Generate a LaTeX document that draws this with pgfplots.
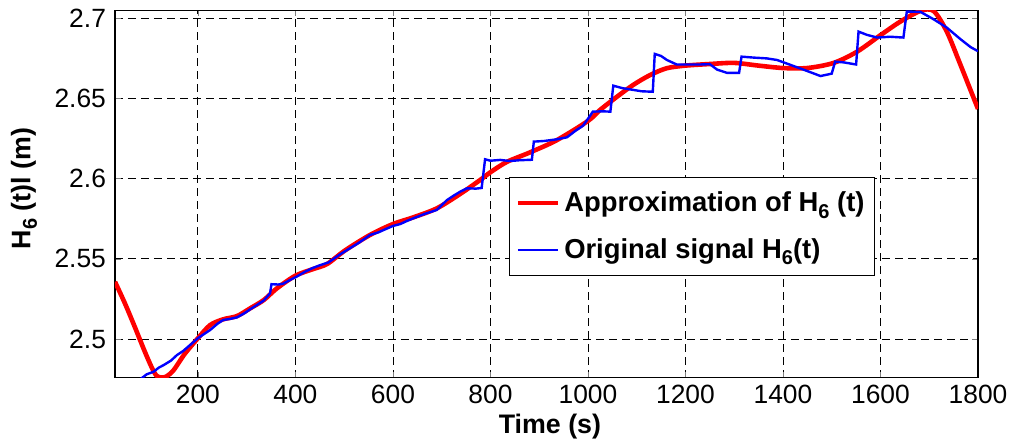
\documentclass[border=0pt]{standalone}
\usepackage{fontspec}
\setmainfont{Liberation Sans}
\usepackage{pgfplots}
\pgfplotsset{compat=1.18}
\newcommand{\sub}[1]{\raisebox{-0.45ex}{\fontsize{10}{10}\selectfont #1}}
\begin{document}
\begin{tikzpicture}
\begin{axis}[
  at={(0,0)}, anchor=south west,
  scale only axis, width=431.5pt, height=183.7pt,
  xmin=30, xmax=1800, ymin=2.4759, ymax=2.705,
  xtick={200,400,600,800,1000,1200,1400,1600,1800},
  xticklabels={200,400,600,800,1000,1200,1400,1600,1800},
  ytick={2.5,2.55,2.6,2.65,2.7},
  yticklabels={2.5,2.55,2.6,2.65,2.7},
  tick label style={font=\fontsize{13.2}{14}\selectfont},
  yticklabel style={xshift=-1pt},
  xticklabel style={yshift=0pt},
  tick align=inside, major tick length=3pt,
  axis line style={line width=0.6pt},
  grid=major,
  major grid style={dash pattern=on 4pt off 2.5pt, black, line width=0.4pt},
  xlabel={\bfseries Time (s)},
  ylabel={\bfseries H\sub{6} (t)l (m)},
  xlabel style={font=\fontsize{13.4}{15}\selectfont, at={(axis description cs:0.504,-0.134)}, anchor=center},
  ylabel style={font=\fontsize{13.4}{15}\selectfont, at={(axis description cs:-0.1054,0.515)}, anchor=center},
  legend style={at={(0.4566,0.546)}, anchor=north west, font=\bfseries\fontsize{13.7}{15}\selectfont, draw=black, line width=0.6pt, inner xsep=3pt, inner ysep=5pt, row sep=8pt, cells={anchor=west}},
  legend image code/.code={\draw[#1] (0pt,0pt) -- (20pt,0pt);},
]
\addplot[red, line width=2.3pt, smooth, tension=0.5] coordinates {
(30,2.5357) (50,2.5225) (70,2.5080) (90,2.4930) (105,2.4825) (115,2.4772) (125,2.4760) (135,2.4766)
(150,2.4805) (170,2.4895) (185,2.4952) (200,2.5005) (225,2.5087) (252,2.5123) (280,2.5143)
(307,2.5191) (335,2.5243) (362,2.5316) (400,2.5395) (435,2.5435) (465,2.5468) (502,2.5553)
(553,2.5649) (600,2.5717) (642,2.5759) (690,2.5815) (738,2.5905) (779,2.5992) (800,2.6040)
(834,2.6105) (882,2.6165) (936,2.6240) (1000,2.6360) (1025,2.6429) (1060,2.6512) (1093,2.6585)
(1128,2.6647) (1162,2.6689) (1200,2.6705) (1250,2.6715) (1300,2.6722) (1350,2.6705) (1400,2.6690)
(1450,2.6690) (1504,2.6722) (1552,2.6792) (1600,2.6895) (1641,2.6980) (1682,2.7046) (1709,2.7045)
(1736,2.6917) (1764,2.6710) (1800,2.6435)
};
\addlegendentry{Approximation of H\sub{6} (t)}
\addplot[blue, line width=1.2pt] coordinates {
(80,2.4745) (95,2.4780) (109,2.4796) (120,2.4822) (130,2.4838) (145,2.4866) (157,2.4900) (170,2.4926)
(184,2.4963) (200,2.5005) (212,2.5030) (225,2.5056) (240,2.5095) (252,2.5119) (265,2.5125) (280,2.5135)
(295,2.5160) (307,2.5185) (320,2.5210) (335,2.5240) (348,2.5285) (351,2.5342) (365,2.5340) (375,2.5345)
(390,2.5370) (400,2.5385) (420,2.5420) (434,2.5441) (450,2.5460) (468,2.5478) (490,2.5525) (506,2.5555)
(530,2.5600) (553,2.5649) (570,2.5665) (581,2.5680) (600,2.5705) (615,2.5717) (630,2.5738) (642,2.5753)
(665,2.5780) (690,2.5805) (711,2.5867) (725,2.5895) (738,2.5919) (752,2.5940) (770,2.5938) (782,2.5942)
(789,2.6121) (800,2.6112) (820,2.6117) (840,2.6110) (860,2.6115) (885,2.6118) (889,2.6231) (910,2.6235)
(935,2.6245) (957,2.6258) (975,2.6300) (990,2.6330) (1005,2.6395) (1010,2.6418) (1030,2.6420) (1046,2.6418)
(1052,2.6580) (1070,2.6565) (1090,2.6555) (1110,2.6545) (1133,2.6542) (1137,2.6778) (1150,2.6765)
(1162,2.6740) (1182,2.6712) (1200,2.6712) (1230,2.6712) (1250,2.6714) (1265,2.6680) (1285,2.6660)
(1310,2.6660) (1315,2.6761) (1340,2.6755) (1367,2.6750) (1388,2.6740) (1415,2.6710) (1442,2.6680)
(1477,2.6640) (1500,2.6655) (1507,2.6730) (1525,2.6725) (1550,2.6712) (1555,2.6917) (1572,2.6897)
(1593,2.6880) (1620,2.6885) (1647,2.6880) (1654,2.7042) (1682,2.7040) (1709,2.6994) (1736,2.6942)
(1764,2.6870) (1785,2.6820) (1800,2.6795)
};
\addlegendentry{Original signal H\sub{6}(t)}
\end{axis}
\pgfresetboundingbox
\path (-57.5pt,-32.65pt) rectangle (448.5pt,188.85pt);
\end{tikzpicture}
\end{document}
